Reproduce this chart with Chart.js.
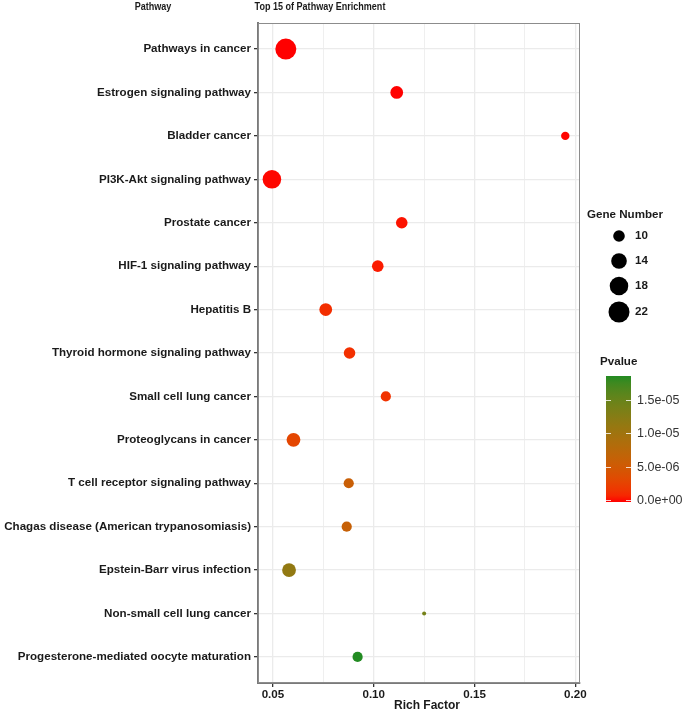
<!DOCTYPE html>
<html>
<head>
<meta charset="utf-8">
<script src="https://cdn.jsdelivr.net/npm/chart.js@4.4.1/dist/chart.umd.min.js"></script>
<style>
  body { margin: 0; background: #fff; }
  #wrap { width: 685px; height: 713px; }
</style>
</head>
<body>
<div id="wrap"><canvas id="dotChart" width="685" height="713"></canvas></div>
<script>
// pathways, top to bottom
const pathways = [
  'Pathways in cancer',
  'Estrogen signaling pathway',
  'Bladder cancer',
  'PI3K-Akt signaling pathway',
  'Prostate cancer',
  'HIF-1 signaling pathway',
  'Hepatitis B',
  'Thyroid hormone signaling pathway',
  'Small cell lung cancer',
  'Proteoglycans in cancer',
  'T cell receptor signaling pathway',
  'Chagas disease (American trypanosomiasis)',
  'Epstein-Barr virus infection',
  'Non-small cell lung cancer',
  'Progesterone-mediated oocyte maturation'
];
const richFactor = [0.0564, 0.1114, 0.195, 0.0495, 0.1139, 0.102, 0.0762, 0.088, 0.106, 0.0602, 0.0876, 0.0866, 0.058, 0.125, 0.092];
const geneNumber = [22, 11, 8, 18, 10, 10, 11, 10, 9, 12, 9, 9, 12, 7, 9];
const pvalue = [1e-9, 1e-8, 5e-8, 1e-7, 3e-7, 5e-7, 1.3e-6, 1.4e-6, 1.6e-6, 3e-6, 6e-6, 6.3e-6, 1.15e-5, 1.4e-5, 1.86e-5];

const xTicks = [0.05, 0.075, 0.1, 0.125, 0.15, 0.175, 0.2];
const xMajor = [0.05, 0.1, 0.15, 0.2];
const sizeBreaks = [10, 14, 18, 22];
const pBreaks = [0, 5e-6, 1e-5, 1.5e-5];
const pBreakLabels = ['0.0e+00', '5.0e-06', '1.0e-05', '1.5e-05'];

const FONT = '"Liberation Sans", Arial, sans-serif';

// --- colour ramp red -> forestgreen in Lab (like ggplot) ---
function toLab(hex) {
  const c = [1, 3, 5].map(i => parseInt(hex.substr(i, 2), 16) / 255)
    .map(v => v <= 0.04045 ? v / 12.92 : Math.pow((v + 0.055) / 1.055, 2.4));
  const X = (0.4124 * c[0] + 0.3576 * c[1] + 0.1805 * c[2]) / 0.95047;
  const Y = 0.2126 * c[0] + 0.7152 * c[1] + 0.0722 * c[2];
  const Z = (0.0193 * c[0] + 0.1192 * c[1] + 0.9505 * c[2]) / 1.08883;
  const f = t => t > 0.008856 ? Math.cbrt(t) : 7.787 * t + 16 / 116;
  return [116 * f(Y) - 16, 500 * (f(X) - f(Y)), 200 * (f(Y) - f(Z))];
}
function fromLab(L, a, b) {
  const fy = (L + 16) / 116, fx = fy + a / 500, fz = fy - b / 200;
  const inv = t => t * t * t > 0.008856 ? t * t * t : (t - 16 / 116) / 7.787;
  const X = inv(fx) * 0.95047, Y = inv(fy), Z = inv(fz) * 1.08883;
  const lin = [
    3.2406 * X - 1.5372 * Y - 0.4986 * Z,
    -0.9689 * X + 1.8758 * Y + 0.0415 * Z,
    0.0557 * X - 0.2040 * Y + 1.0570 * Z
  ];
  const rgb = lin.map(v => {
    v = v <= 0.0031308 ? 12.92 * v : 1.055 * Math.pow(v, 1 / 2.4) - 0.055;
    return Math.round(Math.min(1, Math.max(0, v)) * 255);
  });
  return `rgb(${rgb[0]},${rgb[1]},${rgb[2]})`;
}
const lowLab = toLab('#FF0000'), highLab = toLab('#228B22');
const pMin = Math.min(...pvalue), pMax = Math.max(...pvalue);
function pColor(p) {
  const t = Math.min(1, Math.max(0, (p - pMin) / (pMax - pMin)));
  return fromLab(...lowLab.map((v, i) => v + (highLab[i] - v) * t));
}

// --- size mapping (area-ish like scale_size) ---
const gMin = Math.min(...geneNumber), gMax = Math.max(...geneNumber);
function gRadius(g) {
  return 2 + 8.5 * Math.sqrt((g - gMin) / (gMax - gMin));
}

const points = pathways.map((name, i) => ({ x: richFactor[i], y: i }));

// narrow-looking header text (no condensed font installed)
function narrowText(ctx, text, x, y) {
  ctx.save();
  ctx.translate(x, y);
  ctx.scale(0.86, 1);
  ctx.fillText(text, 0, 0);
  ctx.restore();
}

const extras = {
  id: 'extras',
  afterDraw(chart) {
    const ctx = chart.ctx;
    const a = chart.chartArea;
    ctx.save();
    // panel border
    ctx.strokeStyle = '#8c8c8c';
    ctx.lineWidth = 1;
    ctx.strokeRect(a.left + 0.5, a.top + 0.5, a.right - a.left - 1, a.bottom - a.top - 1);

    ctx.fillStyle = '#1a1a1a';
    ctx.font = 'bold 10.5px ' + FONT;
    ctx.textBaseline = 'middle';
    ctx.textAlign = 'center';
    narrowText(ctx, 'Pathway', 153, 7);
    narrowText(ctx, 'Top 15 of Pathway Enrichment', 320, 7);

    ctx.font = 'bold 12px ' + FONT;
    ctx.fillText('Rich Factor', 427, 706);

    // size legend
    ctx.font = 'bold 11.6px ' + FONT;
    ctx.textAlign = 'left';
    ctx.fillText('Gene Number', 587, 215);
    const sy = [236, 261, 286, 312];
    sizeBreaks.forEach((g, i) => {
      ctx.beginPath();
      ctx.fillStyle = '#000';
      ctx.arc(619, sy[i], gRadius(g), 0, Math.PI * 2);
      ctx.fill();
      ctx.fillStyle = '#1a1a1a';
      ctx.fillText(String(g), 635, sy[i]);
    });

    // colour bar
    ctx.fillText('Pvalue', 600, 362);
    const barTop = 376, barBot = 502, bx = 606, bw = 25;
    const yOf = p => barBot - 2 - (p - pMin) / (pMax - pMin) * (barBot - 2 - barTop);
    const grad = ctx.createLinearGradient(0, barBot, 0, barTop);
    for (let k = 0; k <= 20; k++) {
      grad.addColorStop(k / 20, pColor(pMin + (pMax - pMin) * k / 20));
    }
    ctx.fillStyle = grad;
    ctx.fillRect(bx, barTop, bw, barBot - barTop);
    ctx.font = '12.5px ' + FONT;
    ctx.strokeStyle = 'rgba(255,255,255,0.8)';
    ctx.lineWidth = 1;
    pBreaks.forEach((p, i) => {
      const y = Math.round(yOf(p)) + 0.5;
      ctx.beginPath();
      ctx.moveTo(bx, y); ctx.lineTo(bx + 5, y);
      ctx.moveTo(bx + bw - 5, y); ctx.lineTo(bx + bw, y);
      ctx.stroke();
      ctx.fillStyle = '#333';
      ctx.fillText(pBreakLabels[i], 637, y);
    });
    ctx.restore();
  }
};

new Chart(document.getElementById('dotChart'), {
  type: 'scatter',
  data: {
    datasets: [{
      data: points,
      pointRadius: geneNumber.map(gRadius),
      pointHoverRadius: geneNumber.map(gRadius),
      backgroundColor: pvalue.map(pColor),
      borderWidth: 0
    }]
  },
  options: {
    responsive: false,
    animation: false,
    events: [],
    layout: { padding: { top: 23, right: 105, left: 0, bottom: 0 } },
    plugins: { legend: { display: false }, tooltip: { enabled: false } },
    scales: {
      x: {
        type: 'linear',
        min: 0.0426,
        max: 0.2023,
        afterBuildTicks: s => { s.ticks = xTicks.map(v => ({ value: v })); },
        afterFit: s => { s.height = 30; },
        ticks: {
          autoSkip: false,
          maxRotation: 0,
          padding: 1,
          color: '#1a1a1a',
          font: { family: FONT, size: 11.6, weight: 'bold' },
          callback: v => xMajor.some(m => Math.abs(m - v) < 1e-9) ? v.toFixed(2) : ''
        },
        grid: {
          color: '#ebebeb',
          lineWidth: c => xMajor.some(m => Math.abs(m - c.tick.value) < 1e-9) ? 1.3 : 0.8,
          tickLength: 4,
          tickColor: c => xMajor.some(m => Math.abs(m - c.tick.value) < 1e-9) ? '#333' : 'rgba(0,0,0,0)'
        },
        border: { display: true, color: '#7a7a7a', width: 2 }
      },
      y: {
        type: 'linear',
        reverse: true,
        min: -0.6,
        max: pathways.length - 0.4,
        afterBuildTicks: s => { s.ticks = pathways.map((n, i) => ({ value: i })); },
        afterFit: s => { s.width = 258; },
        ticks: {
          autoSkip: false,
          padding: 3,
          color: '#1a1a1a',
          font: { family: FONT, size: 11.6, weight: 'bold' },
          callback: v => pathways[v]
        },
        grid: { color: '#ebebeb', lineWidth: 1.3, tickLength: 4, tickColor: '#333' },
        border: { display: true, color: '#7a7a7a', width: 2 }
      }
    }
  },
  plugins: [extras]
});
</script>
</body>
</html>
